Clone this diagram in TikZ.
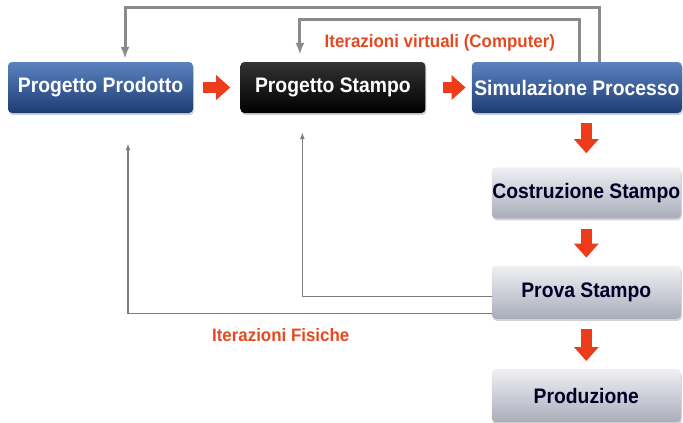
\documentclass[tikz,border=0pt]{standalone}
\usepackage{fontspec}
\setmainfont{Liberation Sans}
\newfontfamily\boxfont{Liberation Sans}[FakeStretch=0.92]
\newfontfamily\lblfont{Liberation Sans}[FakeStretch=0.94]
\usetikzlibrary{arrows.meta,positioning,shadows}
\definecolor{bluetop}{HTML}{5B82C0}
\definecolor{bluebot}{HTML}{1E3C74}
\definecolor{greytop}{HTML}{F0F0F4}
\definecolor{greybot}{HTML}{A9ADBA}
\definecolor{flowred}{HTML}{EC3C1B}
\definecolor{lblred}{HTML}{E44A22}
\definecolor{loopgrey}{HTML}{8A8A8A}

\begin{document}
\begin{tikzpicture}[x=1pt,y=1pt,font=\boxfont\bfseries\fontsize{21}{24}\selectfont,
  box/.style={rounded corners=4pt,minimum height=51pt,inner sep=0pt,
    drop shadow={shadow xshift=1pt,shadow yshift=-2pt,opacity=.35}},
  bluebox/.style={box,top color=bluetop,bottom color=bluebot,text=white},
  darkbox/.style={box,top color=black!80,bottom color=black,text=white},
  greybox/.style={box,top color=greytop,bottom color=greybot,text=black!85!blue,minimum width=189pt},
  flow/.style={flowred,line width=11pt,shorten <=10pt,shorten >=8pt,
    -{Triangle[length=14pt,width=24pt]}},
  loopline/.style={loopgrey,line width=3pt,-{Latex[length=12pt,width=9pt]}},
  backline/.style={loopgrey!90!black,line width=1.6pt,-{Latex[length=7pt,width=5pt]}},
  lbl/.style={lblred,font=\lblfont\bfseries\fontsize{18}{20}\selectfont}]
\useasboundingbox (0,0) rectangle (683,-423);
\node[bluebox,minimum width=185pt] (pp) at (100.5,-87.5) {Progetto Prodotto};
\node[darkbox,minimum width=185pt,right=47pt of pp] (ps) {Progetto Stampo};
\node[bluebox,minimum width=210pt,right=46pt of ps] (sp) {Simulazione Processo};
\node[greybox,below=54pt of sp.south east,anchor=north east,xshift=-1pt] (cs) {Costruzione Stampo};
\node[greybox,minimum height=53pt,below=47pt of cs] (pv) {Prova Stampo};
\node[greybox,minimum height=53pt,below=50pt of pv] (pr) {Produzione};
% red flow
\draw[flow,shorten >=10pt] (pp) -- (ps);
\draw[flow,shorten <=17pt,shorten >=6pt] (ps) -- (sp);
\draw[flow,shorten >=14pt] (sp.south -| cs) -- (cs);
\draw[flow] (cs) -- (pv);
\draw[flow] (pv) -- (pr);
% virtual iterations
\draw[loopline,shorten >=3pt] ([xshift=23pt]sp.north) -- ++(0,54) -| ([xshift=24.5pt]pp.north);
\draw[loopline,shorten >=7pt] ([xshift=3pt]sp.north) -- ++(0,42)
  -| node[lbl,pos=0.25,yshift=-23pt]{Iterazioni virtuali (Computer)} ([xshift=-33pt]ps.north);
% physical iterations
\draw[backline,shorten >=19pt] ([yshift=-4pt]pv.west) -| ([xshift=-30.5pt]ps.south);
\draw[backline,shorten >=30pt] ([yshift=-21pt]pv.west)
  -| node[lbl,pos=0.29,yshift=-21.5pt]{Iterazioni Fisiche} ([xshift=27.5pt]pp.south);
\end{tikzpicture}
\end{document}
